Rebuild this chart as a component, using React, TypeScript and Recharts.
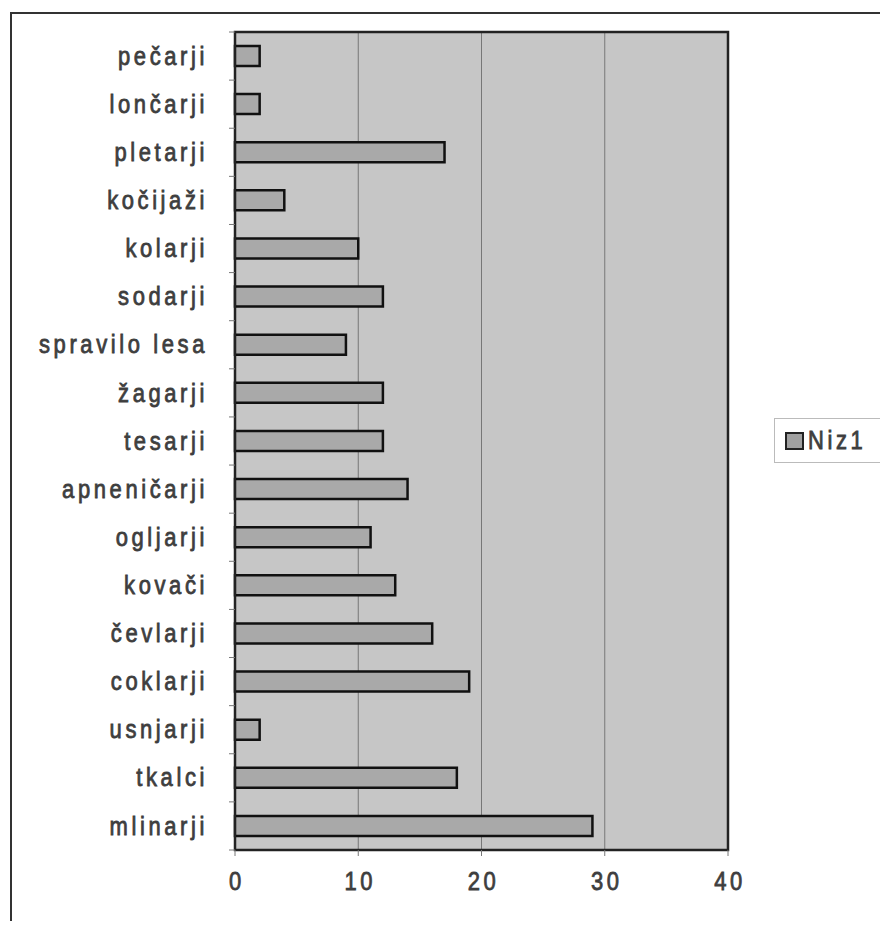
import React from 'react';
import { BarChart, Bar, XAxis, YAxis, CartesianGrid, ReferenceArea } from 'recharts';

const categories = [
  'pečarji', 'lončarji', 'pletarji', 'kočijaži', 'kolarji', 'sodarji', 'spravilo lesa',
  'žagarji', 'tesarji', 'apneničarji', 'ogljarji', 'kovači', 'čevlarji', 'coklarji',
  'usnjarji', 'tkalci', 'mlinarji',
];
const niz1 = [2, 2, 17, 4, 10, 12, 9, 12, 12, 14, 11, 13, 16, 19, 2, 18, 29];
const xTicks = [0, 10, 20, 30, 40];

const data = categories.map((name, i) => ({ name, value: niz1[i] }));

const W = 888;
const H = 929;
const M = { top: 32, right: 160, bottom: 39, left: 10 };
const X_AXIS_H = 40;
const Y_AXIS_W = 225;
const band = (H - M.top - M.bottom - X_AXIS_H) / categories.length;

const font = 'Arial, "Liberation Sans", sans-serif';
const textColor = '#3e3e3e';

const CatTick = (props: any) => {
  const { x, y, payload, index } = props;
  const axisX = x + 8;
  return (
    <g>
      <line x1={axisX - 6} x2={axisX} y1={y - band / 2} y2={y - band / 2} stroke="#777" strokeWidth={1} />
      {index === categories.length - 1 && (
        <line x1={axisX - 6} x2={axisX} y1={y + band / 2} y2={y + band / 2} stroke="#777" strokeWidth={1} />
      )}
      <g transform={`translate(${axisX - 27},${y}) scale(1,1.15)`}>
        <text
          x={0}
          y={0}
          dy={7.5}
          textAnchor="end"
          fontFamily={font}
          fontSize={22}
          letterSpacing={3.6}
          fill={textColor}
          stroke={textColor}
          strokeWidth={0.7}
        >
          {payload.value}
        </text>
      </g>
    </g>
  );
};

const NumTick = (props: any) => {
  const { x, payload } = props;
  return (
    <g transform={`translate(${x + 2},881) scale(1,1.15)`}>
      <text
        x={0}
        y={0}
        dy={7.5}
        textAnchor="middle"
        fontFamily={font}
        fontSize={22}
        letterSpacing={3.6}
        fill={textColor}
        stroke={textColor}
        strokeWidth={0.7}
      >
        {payload.value}
      </text>
    </g>
  );
};

export default function App() {
  return (
    <div style={{ position: 'relative', width: W, height: H, margin: -8, overflow: 'hidden', background: '#fff' }}>
      <div
        style={{
          position: 'absolute',
          left: 10,
          top: 12,
          width: 900,
          height: 914,
          border: '2px solid #333',
          boxSizing: 'border-box',
        }}
      />
      <div style={{ position: 'absolute', left: 0, top: 0 }}>
        <BarChart width={W} height={H} data={data} layout="vertical" margin={M} barSize={20}>
          <CartesianGrid horizontal={false} vertical stroke="#777" fill="#c6c6c6" fillOpacity={1} />
          <XAxis
            type="number"
            domain={[0, 40]}
            ticks={xTicks}
            height={X_AXIS_H}
            axisLine={{ stroke: '#222', strokeWidth: 2 }}
            tickLine={{ stroke: '#777' }}
            tickSize={6}
            tick={<NumTick />}
          />
          <YAxis
            type="category"
            dataKey="name"
            width={Y_AXIS_W}
            axisLine={{ stroke: '#222', strokeWidth: 2 }}
            tickLine={false}
            interval={0}
            tick={<CatTick />}
          />
          <ReferenceArea x1={0} x2={40} fill="none" stroke="#222" strokeWidth={2.5} ifOverflow="visible" />
          <Bar dataKey="value" fill="#a9a9a9" stroke="#111" strokeWidth={2.5} isAnimationActive={false} />
        </BarChart>
      </div>
      <div
        style={{
          position: 'absolute',
          left: 774,
          top: 418,
          width: 111,
          height: 45,
          border: '1px solid #bbb',
          boxSizing: 'border-box',
          display: 'flex',
          alignItems: 'center',
          paddingLeft: 10,
          fontFamily: font,
          fontSize: 22,
          letterSpacing: 3.6,
          color: textColor,
          WebkitTextStroke: `0.7px ${textColor}`,
        }}
      >
        <span
          style={{
            display: 'inline-block',
            width: 15,
            height: 14,
            background: '#a0a0a0',
            border: '2.5px solid #222',
            marginRight: 4,
          }}
        />
        <span style={{ display: 'inline-block', transform: 'scaleY(1.15)' }}>Niz1</span>
      </div>
    </div>
  );
}
